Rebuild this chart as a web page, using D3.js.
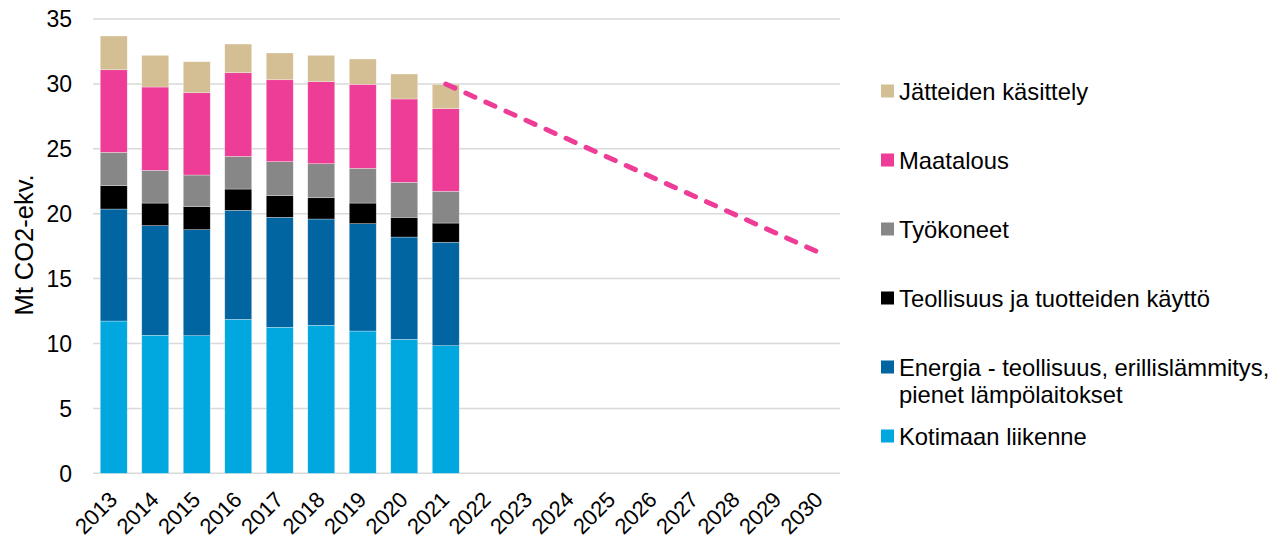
<!DOCTYPE html>
<html>
<head>
<meta charset="utf-8">
<script src="https://cdn.jsdelivr.net/npm/d3@7"></script>
<style>
  html, body { margin: 0; padding: 0; background: #fff; }
  svg { display: block; }
  text { font-family: "Liberation Sans", Arial, sans-serif; fill: #000; }
</style>
</head>
<body>
<svg id="chart" width="1284" height="542"></svg>
<script>
// ---- Data ----
const years = ["2013","2014","2015","2016","2017","2018","2019","2020","2021","2022","2023","2024","2025","2026","2027","2028","2029","2030"];
const dataYears = ["2013","2014","2015","2016","2017","2018","2019","2020","2021"];
const kotimaanLiikenne = [11.73, 10.63, 10.60, 11.86, 11.25, 11.40, 10.96, 10.32, 9.83];
const energia          = [8.63, 8.45, 8.17, 8.40, 8.47, 8.19, 8.27, 7.88, 7.97];
const teollisuus       = [1.80, 1.74, 1.77, 1.64, 1.67, 1.64, 1.59, 1.52, 1.48];
const tyokoneet        = [2.57, 2.52, 2.44, 2.52, 2.62, 2.62, 2.68, 2.70, 2.45];
const maatalous        = [6.36, 6.42, 6.34, 6.44, 6.31, 6.32, 6.47, 6.42, 6.36];
const jatteet          = [2.60, 2.44, 2.39, 2.21, 2.06, 2.03, 1.95, 1.92, 1.88];
const targetYears  = ["2021", "2030"];
const targetValues = [29.99, 17.0];
const yTicks = [0, 5, 10, 15, 20, 25, 30, 35];
const seriesNames = ["Kotimaan liikenne", "Energia - teollisuus, erillislämmitys, pienet lämpölaitokset", "Teollisuus ja tuotteiden käyttö", "Työkoneet", "Maatalous", "Jätteiden käsittely"];
const seriesColors = ["#00A8DF", "#0065A1", "#000000", "#878787", "#EE3D96", "#D4BE93"];
const legendOrder = [5, 4, 3, 2, 1, 0];
const legendLines = [["Jätteiden käsittely"], ["Maatalous"], ["Työkoneet"], ["Teollisuus ja tuotteiden käyttö"], ["Energia - teollisuus, erillislämmitys,", "pienet lämpölaitokset"], ["Kotimaan liikenne"]];
const yTitle = "Mt CO2-ekv.";

// ---- Build ----
const seriesData = [kotimaanLiikenne, energia, teollisuus, tyokoneet, maatalous, jatteet];
const table = dataYears.map((yr, i) => {
  const row = { year: yr };
  seriesNames.forEach((n, s) => row[n] = seriesData[s][i]);
  return row;
});
const stacked = d3.stack().keys(seriesNames)(table);

const svg = d3.select("#chart");
const x = d3.scaleBand().domain(years).range([93, 840]).paddingInner(0.35).paddingOuter(0.175);
const y = d3.scaleLinear().domain([0, 35]).range([473.3, 19]);

// gridlines
svg.append("g").selectAll("line").data(yTicks).join("line")
  .attr("x1", 93).attr("x2", 840)
  .attr("y1", d => y(d)).attr("y2", d => y(d))
  .attr("stroke", "#D9D9D9").attr("stroke-width", 1.5);

// y tick labels
svg.append("g").selectAll("text").data(yTicks).join("text")
  .attr("x", 72).attr("y", d => y(d)).attr("dy", "0.36em")
  .attr("text-anchor", "end").style("font-size", "23px")
  .text(d => d);

// y title
svg.append("text")
  .attr("transform", "translate(33,245) rotate(-90)")
  .attr("text-anchor", "middle").style("font-size", "25.5px")
  .text(yTitle);

// bars
const layers = svg.append("g").selectAll("g").data(stacked).join("g")
  .attr("fill", (d, i) => seriesColors[i]);
layers.selectAll("rect").data(d => d).join("rect")
  .attr("x", d => x(d.data.year))
  .attr("width", x.bandwidth())
  .attr("y", d => y(d[1]))
  .attr("height", d => y(d[0]) - y(d[1]))
  .attr("stroke", "#ffffff").attr("stroke-width", 0.6).attr("stroke-opacity", 0.5);

// x labels
svg.append("g").selectAll("text").data(years).join("text")
  .attr("transform", d => `translate(${x(d) + x.bandwidth() / 2 + 5},${501}) rotate(-45)`)
  .attr("text-anchor", "end").style("font-size", "22px")
  .text(d => d);

// dashed target line
const line = d3.line().x(d => x(d[0]) + x.bandwidth() / 2).y(d => y(d[1]));
svg.append("path")
  .datum(targetYears.map((yr, i) => [yr, targetValues[i]]))
  .attr("d", line)
  .attr("fill", "none").attr("stroke", "#EE3D96")
  .attr("stroke-width", 5).attr("stroke-linecap", "round")
  .attr("stroke-dasharray", "10,12");

// legend
const legendY = [91, 160, 229, 298, 367, 436];
const leg = svg.append("g").selectAll("g").data(legendOrder).join("g")
  .attr("transform", (d, i) => `translate(881,${legendY[i]})`);
leg.append("rect").attr("x", 0).attr("y", -6.5).attr("width", 13).attr("height", 13)
  .attr("fill", d => seriesColors[d]);
leg.append("text").attr("x", 18).attr("y", 0).style("font-size", "23.8px")
  .selectAll("tspan").data((d, i) => legendLines[i]).join("tspan")
  .attr("x", 18).attr("dy", (t, j) => j === 0 ? "0.36em" : "27px")
  .text(t => t);
</script>
</body>
</html>
